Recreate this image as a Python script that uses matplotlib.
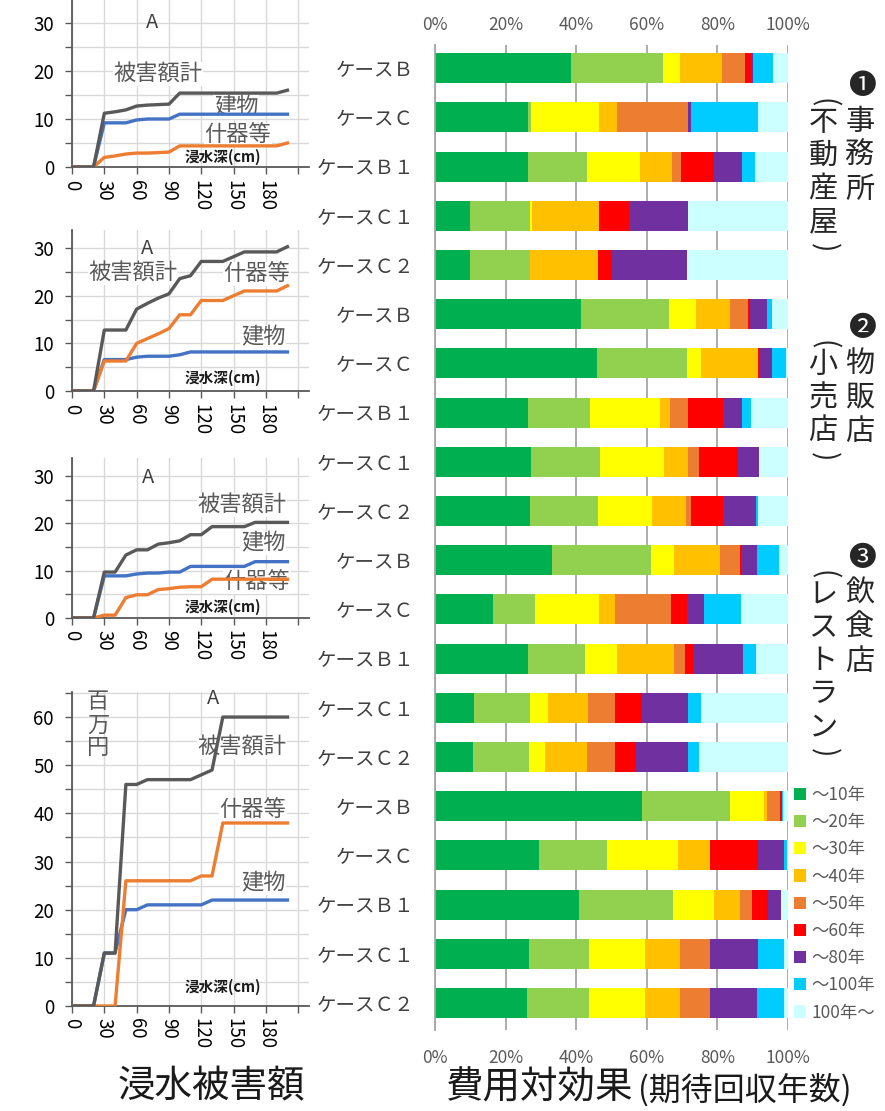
import matplotlib.pyplot as plt
from matplotlib.patches import Patch
from matplotlib.ticker import MultipleLocator

plt.rcParams['font.family'] = ['Noto Sans CJK JP', 'DejaVu Sans']

W, H = 885, 1111

# ---- left: flood damage curves (million yen vs depth cm) ----
depth = [0, 10, 20, 30, 40, 50, 60, 70, 80, 90, 100,
         110, 120, 130, 140, 150, 160, 170, 180, 190, 200]

p1_bldg = [0, 0, 0, 9.2, 9.2, 9.2, 9.8, 10.0, 10.0, 10.0, 11.0,
           11.0, 11.0, 11.0, 11.0, 11.0, 11.0, 11.0, 11.0, 11.0, 11.0]
p1_equip = [0, 0, 0, 2.0, 2.3, 2.7, 2.9, 2.9, 3.0, 3.1, 4.4,
            4.4, 4.4, 4.4, 4.4, 4.4, 4.4, 4.4, 4.4, 4.4, 5.0]
p1_total = [0, 0, 0, 11.2, 11.5, 11.9, 12.7, 12.9, 13.0, 13.1, 15.4,
            15.4, 15.4, 15.4, 15.4, 15.4, 15.4, 15.4, 15.4, 15.4, 16.0]

p2_bldg = [0, 0, 0, 6.6, 6.6, 6.6, 7.1, 7.3, 7.3, 7.3, 7.6,
           8.2, 8.2, 8.2, 8.2, 8.2, 8.2, 8.2, 8.2, 8.2, 8.2]
p2_equip = [0, 0, 0, 6.3, 6.3, 6.3, 10.0, 11.0, 12.0, 13.1, 16.0,
            16.0, 19.0, 19.0, 19.0, 20.0, 21.0, 21.0, 21.0, 21.0, 22.1]
p2_total = [0, 0, 0, 12.8, 12.8, 12.8, 17.2, 18.4, 19.5, 20.4, 23.6,
            24.2, 27.2, 27.2, 27.2, 28.2, 29.2, 29.2, 29.2, 29.2, 30.3]

p3_bldg = [0, 0, 0, 8.9, 8.9, 8.9, 9.3, 9.5, 9.5, 9.7, 9.7,
           10.9, 10.9, 10.9, 10.9, 10.9, 10.9, 11.9, 11.9, 11.9, 11.9]
p3_equip = [0, 0, 0, 0.6, 0.6, 4.3, 4.9, 4.9, 6.0, 6.2, 6.5,
            6.6, 6.6, 8.2, 8.2, 8.2, 8.2, 8.2, 8.2, 8.2, 8.2]
p3_total = [0, 0, 0, 9.7, 9.7, 13.3, 14.4, 14.4, 15.6, 15.9, 16.3,
            17.6, 17.6, 19.3, 19.3, 19.3, 19.3, 20.2, 20.2, 20.2, 20.2]

p4_bldg = [0, 0, 0, 11, 11, 20, 20, 21, 21, 21, 21,
           21, 21, 22, 22, 22, 22, 22, 22, 22, 22]
p4_equip = [0, 0, 0, 0, 0, 26, 26, 26, 26, 26, 26,
            26, 27, 27, 38, 38, 38, 38, 38, 38, 38]
p4_total = [0, 0, 0, 11, 11, 46, 46, 47, 47, 47, 47,
            47, 48, 49, 60, 60, 60, 60, 60, 60, 60]

depth_ticks = [0, 30, 60, 90, 120, 150, 180, 210]
depth_labels = ['0', '30', '60', '90', '120', '150', '180', '']

# ---- right: cost-effectiveness (payback years share, %) ----
cases = ['ケースＢ', 'ケースＣ', 'ケースＢ１', 'ケースＣ１', 'ケースＣ２'] * 4
year_labels = ['～10年', '～20年', '～30年', '～40年', '～50年',
               '～60年', '～80年', '～100年', '100年～']
year_colors = ['#00B050', '#92D050', '#FFFF00', '#FFC000', '#ED7D31',
               '#FF0000', '#7030A0', '#00CCFF', '#CCFFFF']

y10 = [38.6, 26.4, 26.4, 9.9, 9.9, 41.4, 45.9, 26.4, 27.1, 26.9,
       33.2, 16.3, 26.4, 11.1, 10.7, 58.6, 29.6, 40.9, 26.5, 26.2]
y20 = [26.0, 0.8, 16.7, 17.0, 17.0, 24.9, 25.5, 17.4, 19.7, 19.2,
       28.0, 12.1, 16.1, 15.8, 16.0, 24.9, 19.0, 26.6, 17.1, 17.4]
y30 = [4.9, 19.2, 15.1, 0.7, 0, 7.6, 3.9, 19.8, 18.2, 15.4,
       6.6, 18.1, 9.0, 5.0, 4.5, 9.6, 20.3, 11.6, 15.9, 15.8]
y40 = [11.8, 5.2, 8.8, 19.0, 19.3, 9.7, 16.3, 3.0, 6.8, 9.6,
       12.8, 4.6, 16.1, 11.4, 11.8, 1.0, 9.0, 7.4, 10.0, 10.0]
y50 = [6.4, 20.0, 2.7, 0, 0, 5.2, 0, 5.0, 3.0, 1.5,
       5.7, 15.8, 3.3, 7.8, 8.0, 3.7, 0, 3.2, 8.4, 8.4]
y60 = [1.9, 0, 9.2, 8.3, 3.8, 0.5, 0.4, 9.9, 11.1, 8.9,
       0.4, 4.6, 2.3, 7.5, 6.0, 0.4, 13.5, 4.5, 0, 0]
y80 = [0.4, 0.9, 8.0, 16.7, 21.5, 4.7, 3.6, 5.6, 5.8, 9.5,
       4.5, 4.8, 14.0, 13.1, 14.6, 0.2, 7.6, 3.7, 13.7, 13.5]
y100 = [5.8, 18.9, 3.8, 0, 0, 1.6, 3.9, 2.5, 0, 0.5,
        6.2, 10.3, 3.7, 3.6, 3.3, 0.3, 0.7, 0, 7.3, 7.6]
over100 = [4.2, 8.6, 9.3, 28.4, 28.5, 4.4, 0.5, 10.4, 8.3, 8.5,
           2.6, 13.4, 9.1, 24.7, 25.1, 1.3, 0.3, 2.1, 1.1, 1.1]

fig = plt.figure(figsize=(W / 100, H / 100), dpi=100)


def box(left, top, right, bottom):
    return [left / W, 1 - bottom / H, (right - left) / W, (bottom - top) / H]


def put(x, y, s, where=None, **kw):
    # text placed in figure pixels; inside an axes if given so lines can sit on top
    if where is None:
        fig.text(x / W, 1 - y / H, s, **kw)
    else:
        where.text(x / W, 1 - y / H, s, transform=fig.transFigure, **kw)


GRAY = '#595959'
panels = [
    # bldg, equip, total, top px, bottom px, ymax, ystep, label positions
    (p1_bldg, p1_equip, p1_total, 0, 167, 34.8, 30,
     {'A': (152, 23), '被害額計': (158, 74), '建物': (236, 107),
      '什器等': (238, 135), 'cm': (223, 157)}),
    (p2_bldg, p2_equip, p2_total, 230, 391, 33.8, 30,
     {'A': (147, 249), '被害額計': (133, 273), '建物': (263, 337),
      '什器等': (257, 274), 'cm': (223, 378)}),
    (p3_bldg, p3_equip, p3_total, 458, 618, 33.8, 30,
     {'A': (148, 477), '被害額計': (242, 505), '建物': (263, 543),
      '什器等': (257, 582), 'cm': (223, 607)}),
    (p4_bldg, p4_equip, p4_total, 692, 1006, 65.2, 60,
     {'A': (213, 699), '被害額計': (242, 747), '建物': (263, 883),
      '什器等': (253, 810), 'cm': (223, 987)}),
]

for bldg, equip, total, top, bot, ymax, ytop, lab in panels:
    ax = fig.add_axes(box(72, top, 309, bot))
    ax.plot(depth, bldg, color='#4472C4', lw=2.4, zorder=4)
    ax.plot(depth, equip, color='#ED7D31', lw=2.4, zorder=4)
    ax.plot(depth, total, color=GRAY, lw=2.4, zorder=4)
    ax.set_xlim(0, 220)
    ax.set_ylim(0, ymax)
    ax.set_xticks(depth_ticks)
    ax.set_xticklabels(depth_labels, rotation=-90, fontsize=13.5)
    ax.set_yticks(list(range(0, ytop + 1, 10)))
    ax.yaxis.set_minor_locator(MultipleLocator(5))
    ax.tick_params(axis='y', which='major', labelsize=13.5, length=5,
                   width=1, color=GRAY, pad=8)
    ax.tick_params(axis='y', which='minor', length=5, width=1, color=GRAY)
    ax.tick_params(axis='x', length=5, width=1, color=GRAY, pad=4)
    ax.grid(True, axis='y', which='both', color='#d9d9d9', lw=1)
    ax.grid(True, axis='x', which='major', color='#d9d9d9', lw=1)
    ax.set_axisbelow(True)
    for side in ['top', 'right']:
        ax.spines[side].set_visible(False)
    for side in ['left', 'bottom']:
        ax.spines[side].set_color(GRAY)
        ax.spines[side].set_linewidth(1.3)

    put(*lab['A'], 'A', where=ax, fontsize=14.5, color='#404040',
        ha='center', va='center', zorder=3)
    for key in ['被害額計', '建物', '什器等']:
        put(*lab[key], key, where=ax, fontsize=16, color=GRAY, ha='center',
            va='center', zorder=3,
            bbox=dict(facecolor='white', edgecolor='none', pad=0.5))
    put(*lab['cm'], '浸水深(cm)', where=ax, fontsize=10.5, fontweight='bold',
        color='#1a1a1a', ha='center', va='center', zorder=3)

put(98, 725, '百\n万\n円', fontsize=16, color=GRAY, ha='center',
    va='center', linespacing=1.0)

# ---- bar chart ----
bx = fig.add_axes(box(435, 45, 788, 1030))
rows = list(range(len(cases)))
left = [0.0] * len(cases)
handles = []
for vals, name, col in zip([y10, y20, y30, y40, y50, y60, y80, y100, over100],
                           year_labels, year_colors):
    bx.barh(rows, vals, left=left, height=0.61, color=col, linewidth=0)
    left = [a + b for a, b in zip(left, vals)]
    handles.append(Patch(facecolor=col, edgecolor='none', label=name))

bx.set_xlim(0, 100)
bx.set_ylim(19.55, -0.47)
bx.set_yticks(rows)
bx.set_yticklabels(cases, fontsize=14, color='#404040')
bx.tick_params(axis='y', length=0, pad=15)
pct_ticks = [0, 20, 40, 60, 80, 100]
pct_labels = ['0%', '20%', '40%', '60%', '80%', '100%']
bx.set_xticks(pct_ticks)
bx.set_xticklabels(pct_labels, fontsize=12.5, color=GRAY)
bx.tick_params(axis='x', length=0, pad=14)
top_ax = bx.secondary_xaxis('top')
top_ax.set_xticks(pct_ticks)
top_ax.set_xticklabels(pct_labels, fontsize=12.5, color=GRAY)
top_ax.tick_params(length=0, pad=8)
top_ax.spines['top'].set_visible(False)
bx.grid(True, axis='x', color='#a6a6a6', lw=1.3)
bx.set_axisbelow(True)
for side in ['top', 'right', 'bottom']:
    bx.spines[side].set_visible(False)
bx.spines['left'].set_color('#a6a6a6')
bx.spines['left'].set_linewidth(1.3)

fig.legend(handles=handles, loc='upper left',
           bbox_to_anchor=(794 / W, 1 - 786 / H), frameon=False,
           fontsize=12.5, handlelength=0.7, handleheight=0.7,
           handletextpad=0.3, labelspacing=0.53, borderpad=0,
           borderaxespad=0, labelcolor=GRAY)

# ---- vertical group titles ----
group_heads = ['❶事務所', '❷物販店', '❸飲食店']
group_subs = ['不動産屋', '小売店', 'レストラン']
group_tops = [86, 328, 558]
for head, sub, y0 in zip(group_heads, group_subs, group_tops):
    for k, ch in enumerate(head):
        y = y0 if k == 0 else y0 + 36 + 34 * (k - 1)
        put(862 if k == 0 else 860, y, ch, fontsize=21 if k else 20,
            color='#262626', ha='center', va='center')
    # parentheses turned sideways, as in vertical Japanese writing
    put(823, y0 + 17, '(', fontsize=20, color='#262626', rotation=-90,
        ha='center', va='center')
    for k, ch in enumerate(sub):
        put(823, y0 + 37 + 33 * k, ch, fontsize=21, color='#262626',
            ha='center', va='center')
    put(823, y0 + 37 + 33 * (len(sub) - 1) + 26, ')', fontsize=20,
        color='#262626', rotation=-90, ha='center', va='center')

# ---- bottom titles ----
put(211, 1087, '浸水被害額', fontsize=27, color='#1a1a1a', ha='center', va='center')
put(446, 1088, '費用対効果', fontsize=27, color='#1a1a1a', ha='left', va='center')
put(638, 1090, '(期待回収年数)', fontsize=23, color='#1a1a1a', ha='left', va='center')

fig.savefig('out.png', dpi=100)
